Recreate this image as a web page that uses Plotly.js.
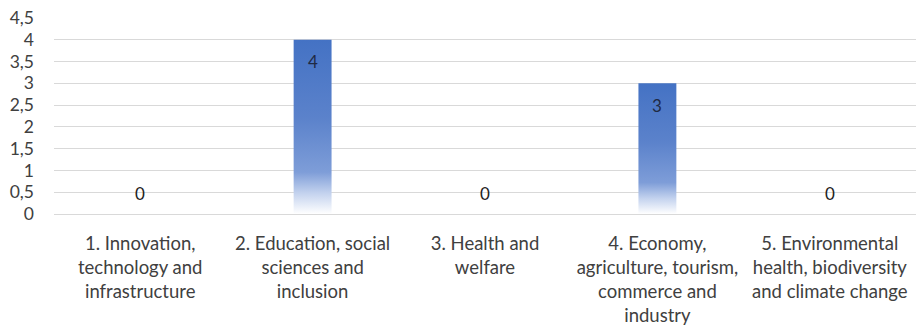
<!DOCTYPE html>
<html>
<head>
<meta charset="utf-8">
<script src="https://cdn.plot.ly/plotly-3.0.1.min.js"></script>
<style>
  html, body { margin: 0; padding: 0; background: #ffffff; }
  #chart { width: 916px; height: 327px; }
</style>
</head>
<body>
<div id="chart"></div>
<script>
// Thematic areas and number of projects in each
const categories = [
  "1. Innovation,<br>technology and<br>infrastructure",
  "2. Education, social<br>sciences and<br>inclusion",
  "3. Health and<br>welfare",
  "4. Economy,<br>agriculture, tourism,<br>commerce and<br>industry",
  "5. Environmental<br>health, biodiversity<br>and climate change"
];
const counts = [0, 4, 0, 3, 0];
const yTicks = [0, 0.5, 1, 1.5, 2, 2.5, 3, 3.5, 4, 4.5];

const FONT = "Lato, 'Open Sans', sans-serif";
const TEXT = "#404040";

// Value labels: inside the top of non-empty bars, just above the axis for empty ones
const labels = categories.map((c, i) => ({
  x: c,
  y: counts[i],
  xref: "x",
  yref: "y",
  text: String(counts[i]),
  showarrow: false,
  yshift: counts[i] > 0 ? -22 : 21,
  font: { family: FONT, size: 17, color: counts[i] > 0 ? "#1f2a44" : "#222222" }
}));

const trace = {
  type: "bar",
  x: categories,
  y: counts,
  width: 0.22,
  marker: { color: "#4472C4", line: { width: 0 } },
  hoverinfo: "skip"
};

const layout = {
  width: 916,
  height: 327,
  margin: { l: 54, r: 0, t: 18, b: 113 },
  paper_bgcolor: "#ffffff",
  plot_bgcolor: "#ffffff",
  separators: ", ",
  showlegend: false,
  font: { family: FONT, size: 18, color: TEXT },
  xaxis: {
    type: "category",
    showgrid: false,
    showline: false,
    zeroline: false,
    ticks: "",
    tickfont: { family: FONT, size: 18.5, color: TEXT },
    ticklabelstandoff: 16
  },
  yaxis: {
    range: [0, 4.5],
    tickvals: yTicks,
    ticktext: yTicks.map(v => String(v).replace(".", ",")),
    showgrid: true,
    gridcolor: "#d9d9d9",
    gridwidth: 1,
    zeroline: true,
    zerolinecolor: "#d9d9d9",
    zerolinewidth: 1,
    showline: false,
    ticks: "",
    ticklabelstandoff: 19,
    tickfont: { family: FONT, size: 17.5, color: TEXT }
  },
  annotations: labels
};

// Bars fade from solid blue at the top to white at the base
function applyGradient(gd) {
  const svg = gd.querySelector("svg.main-svg");
  if (!svg) return;
  const ns = "http://www.w3.org/2000/svg";
  let defs = svg.querySelector("defs");
  if (!defs) { defs = document.createElementNS(ns, "defs"); svg.insertBefore(defs, svg.firstChild); }
  if (!svg.querySelector("#barFade")) {
    const g = document.createElementNS(ns, "linearGradient");
    g.setAttribute("id", "barFade");
    g.setAttribute("x1", "0"); g.setAttribute("y1", "0");
    g.setAttribute("x2", "0"); g.setAttribute("y2", "1");
    [["0", "#4472C4"], ["0.45", "#5b82cb"], ["0.76", "#7e9dd8"], ["0.88", "#c3d2ee"], ["1", "#ffffff"]].forEach(([o, c]) => {
      const s = document.createElementNS(ns, "stop");
      s.setAttribute("offset", o);
      s.setAttribute("stop-color", c);
      g.appendChild(s);
    });
    defs.appendChild(g);
  }
  gd.querySelectorAll(".barlayer .point path").forEach(p => {
    p.style.fill = "url(#barFade)";
  });
}

const gd = document.getElementById("chart");
Plotly.newPlot(gd, [trace], layout, { staticPlot: true, displayModeBar: false }).then(() => {
  applyGradient(gd);
});
</script>
</body>
</html>
